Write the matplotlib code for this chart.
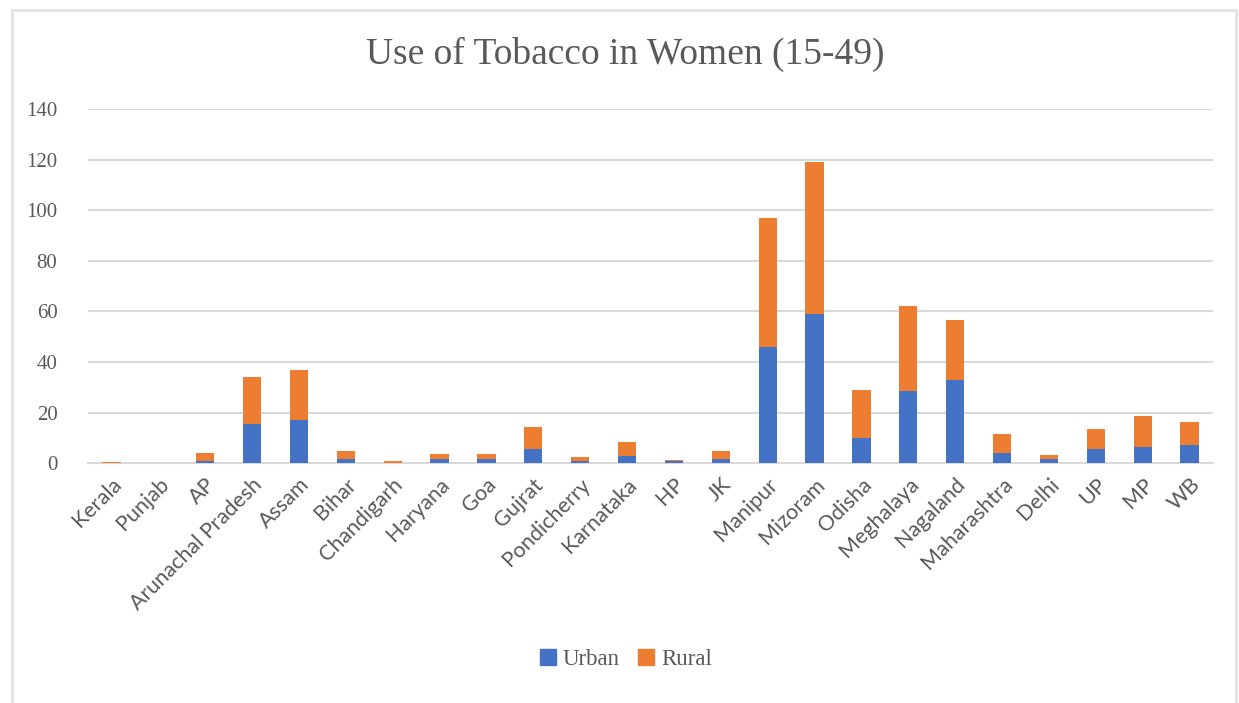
import matplotlib
matplotlib.use("Agg")
import matplotlib.pyplot as plt
import matplotlib.patches as mpatches
import numpy as np

states = ["Kerala", "Punjab", "AP", "Arunachal Pradesh", "Assam", "Bihar",
          "Chandigarh", "Haryana", "Goa", "Gujrat", "Pondicherry", "Karnataka",
          "HP", "JK", "Manipur", "Mizoram", "Odisha", "Meghalaya", "Nagaland",
          "Maharashtra", "Delhi", "UP", "MP", "WB"]
urban = [0.2, 0.1, 1.0, 15.5, 17.0, 1.6, 0.3, 1.8, 1.8, 5.5, 0.8, 3.0,
         1.0, 1.8, 46.0, 59.0, 10.0, 28.5, 33.0, 4.1, 1.7, 5.7, 6.6, 7.4]
rural = [0.4, 0.2, 3.0, 18.6, 20.0, 3.3, 0.7, 1.8, 2.0, 8.8, 1.7, 5.3,
         0.3, 3.2, 51.0, 60.0, 19.0, 33.5, 23.5, 7.6, 1.6, 7.9, 11.9, 9.1]

BLUE = "#4472c4"
ORANGE = "#ed7d31"
GRID = "#d9d9d9"
TXT = "#595959"
SERIF = "Liberation Serif"

fig = plt.figure(figsize=(12.39, 7.03), dpi=100)
ax = fig.add_axes([0.071, 0.341, 0.908, 0.504])

x = np.arange(len(states))
ax.bar(x, urban, width=0.39, color=BLUE, zorder=3)
ax.bar(x, rural, width=0.39, bottom=urban, color=ORANGE, zorder=3)

ax.set_xlim(-0.5, len(states) - 0.5)
ax.set_ylim(0, 140)
ax.set_yticks(range(0, 141, 20))
ax.yaxis.grid(True, color=GRID, linewidth=1.5, zorder=0)
ax.set_axisbelow(True)
for s in ["top", "right", "left"]:
    ax.spines[s].set_visible(False)
ax.spines["bottom"].set_color(GRID)
ax.spines["bottom"].set_linewidth(1.5)
ax.tick_params(axis="both", length=0)
ax.tick_params(axis="y", pad=22)
for t in ax.get_yticklabels():
    t.set_fontfamily(SERIF); t.set_fontsize(15); t.set_color(TXT)

ax.set_xticks(x)
ax.set_xticklabels(states, rotation=45, ha="right", rotation_mode="anchor",
                   fontsize=15.5, color=TXT, family="Lato")
ax.tick_params(axis="x", pad=8)

fig.text(0.505, 0.922, "Use of Tobacco in Women (15-49)", ha="center", va="center",
         fontsize=27, color=TXT, family=SERIF)

handles = [mpatches.Patch(color=BLUE, label="Urban"),
           mpatches.Patch(color=ORANGE, label="Rural")]
leg = fig.legend(handles=handles, loc="center", bbox_to_anchor=(0.505, 0.062), ncol=2,
                 frameon=False, handlelength=0.7, handleheight=0.7,
                 handletextpad=0.3, columnspacing=0.8,
                 prop={"family": SERIF, "size": 16.5})
for t in leg.get_texts():
    t.set_color(TXT)

# chart frame
fig.patches.append(mpatches.Rectangle((12 / 1239, -0.05), 1224 / 1239, 1.036,
                                      transform=fig.transFigure, fill=False,
                                      edgecolor="#e2e2e2", linewidth=2))

fig.savefig("out.png", dpi=100, facecolor="white")
